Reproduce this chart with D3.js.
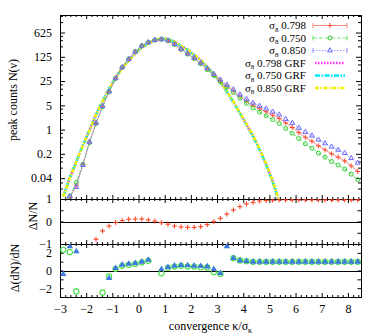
<!DOCTYPE html>
<html>
<head>
<meta charset="utf-8">
<script src="https://cdn.jsdelivr.net/npm/d3@7/dist/d3.min.js"></script>
<style>
body { margin: 0; background: #fff; }
text { font-family: "Liberation Serif", "DejaVu Serif", serif; font-size: 12px; fill: #000; }
</style>
</head>
<body>
<div id="chart"></div>
<script>
// bin centres of kappa/sigma
var nu = [-2.875, -2.625, -2.375, -2.125, -1.875, -1.625, -1.375, -1.125, -0.875, -0.625,
    -0.375, -0.125, 0.125, 0.375, 0.625, 0.875, 1.125, 1.375, 1.625, 1.875,
    2.125, 2.375, 2.625, 2.875, 3.125, 3.375, 3.625, 3.875, 4.125, 4.375,
    4.625, 4.875, 5.125, 5.375, 5.625, 5.875, 6.125, 6.375, 6.625, 6.875,
    7.125, 7.375, 7.625, 7.875, 8.125, 8.375];

// peak counts, simulations
var sim798 = [0.006, 0.011, 0.025, 0.10, 0.43, 1.5, 4.6, 12.3, 30, 62, 108, 175, 260, 327, 381, 400, 364, 286, 206, 152,
    113, 81, 55, 37.4, 25.5, 18, 12.9, 9.0, 6.6, 5.0, 4.0, 3.27, 2.6, 2.1, 1.55, 1.15, 0.82, 0.6, 0.46, 0.34,
    0.26, 0.2, 0.16, 0.125, 0.09, 0.062];
var sim750 = [0.004, 0.012, 0.03, 0.10, 0.42, 1.5, 4.5, 12.2, 30, 62, 108, 176, 262, 330, 383, 400, 362, 284, 204, 150,
    111, 79, 53, 36, 24, 16.8, 11.8, 8.0, 5.7, 4.2, 3.2, 2.5, 1.95, 1.5, 1.08, 0.78, 0.55, 0.39, 0.29, 0.21,
    0.16, 0.12, 0.095, 0.073, 0.052, 0.036];
var sim850 = [0.008, 0.012, 0.022, 0.095, 0.44, 1.55, 4.7, 12.5, 30, 62, 107, 174, 258, 325, 379, 398, 366, 290, 210, 156,
    116, 84, 58, 40, 27.5, 19.5, 14.3, 10.2, 7.6, 5.9, 4.8, 4.0, 3.25, 2.7, 2.0, 1.55, 1.12, 0.85, 0.67, 0.51,
    0.4, 0.32, 0.26, 0.21, 0.15, 0.11];

// peak counts, gaussian random fields (first 35 bins)
var grf798 = [0.012, 0.04, 0.12, 0.35, 0.95, 2.7, 6.5, 14.8, 31, 60, 97, 156, 232, 304, 373, 419, 407, 343, 255, 198,
    142, 100, 63, 40, 23, 12.5, 6.3, 3.0, 1.4, 0.65, 0.27, 0.1, 0.032, 0.0085, 0.002];
var grf750 = [0.012, 0.041, 0.122, 0.355, 0.96, 2.72, 6.55, 14.9, 31.2, 60.5, 97.5, 157, 233, 305, 374, 420, 407, 342, 254, 197,
    141, 99, 62.5, 39.5, 22.7, 12.3, 6.2, 2.95, 1.37, 0.63, 0.26, 0.097, 0.031, 0.0082, 0.002];
var grf850 = [0.0118, 0.0395, 0.118, 0.345, 0.94, 2.68, 6.45, 14.7, 30.8, 59.5, 96.5, 155, 231, 303, 372, 418, 408, 344, 256, 199,
    143, 101, 63.5, 40.5, 23.3, 12.7, 6.4, 3.05, 1.43, 0.67, 0.28, 0.103, 0.033, 0.0088, 0.0021];

// Delta N / N for sigma8 0.798 (null = outside the panel)
var dNN = [null, null, null, null, null, -0.79, -0.42, -0.2, -0.04, 0.04, 0.1, 0.11, 0.11, 0.07, 0.02, -0.05, -0.12, -0.2, -0.24, -0.26,
    -0.26, -0.23, -0.14, -0.01, 0.14, 0.33, 0.51, 0.66, 0.78, 0.85, 0.91, 0.93, 0.95, 0.96, 0.96, 0.96, 0.96, 0.96, 0.96, 0.96,
    0.96, 0.96, 0.96, 0.96, 0.96, 0.96];

// Delta(dN)/dN
var dd750 = [2.34, 2.08, -2.38, null, null, null, -2.49, -0.68, 0.19, 0.53, 0.64, 0.75, 0.91, 1.09, null, -0.3, 0.3, 0.45, 0.53, 0.45,
    0.45, 0.38, 0.34, -0.19, -0.38, null, 1.4, 1.13, 1.06, 0.98, 0.98, 0.98, 0.98, 0.98, 0.98, 0.98, 0.98, 0.98, 0.98, 0.98,
    0.98, 0.98, 0.98, 0.98, 0.98, 0.98];
var dd850 = [-0.42, 2.72, 2.15, null, null, null, null, -0.87, 0.26, 0.64, 0.75, 0.83, 0.98, 1.2, null, 0.15, 0.38, 0.53, 0.6, 0.57,
    0.53, 0.49, 0.45, 0.15, -0.3, 2.72, 1.4, 1.13, 1.06, 0.98, 0.98, 0.98, 0.98, 0.98, 0.98, 0.98, 0.98, 0.98, 0.98, 0.98,
    0.98, 0.98, 0.98, 0.98, 0.98, 0.98];

var logTicks = [0.04, 0.2, 1, 5, 25, 125, 625];
var logMinor = [0.02, 0.03, 0.08, 0.12, 0.16, 0.4, 0.6, 0.8, 2, 3, 4, 10, 15, 20, 50, 75, 100, 250, 375, 500, 1250, 1875];
var xTicks = [-3, -2, -1, 0, 1, 2, 3, 4, 5, 6, 7, 8];
var midTicks = [-1, -0.5, 0, 0.5, 1];
var midLabels = [-1, 0, 1];
var lowTicks = [-3, -2, -1, 0, 1, 2, 3];
var lowLabels = [-2, 0, 2];

var width = 382, height = 334,
    left = 60, right = 361,
    mainTop = 15, mainBot = 199, midBot = 244, lowBot = 297;

var svg = d3.select("#chart").append("svg")
    .attr("width", width)
    .attr("height", height);

var x = d3.scaleLinear().domain([-3, 8.5]).range([left, right]);
var yMain = d3.scaleLog().domain([0.01, 2000]).range([mainBot, mainTop]);
var yMid = d3.scaleLinear().domain([-1, 1]).range([midBot, mainBot]);
var yLow = d3.scaleLinear().domain([-3, 3]).range([lowBot, midBot]);

var xMinor = d3.range(-3, 8.51, 0.2).filter(function (d) { return Math.abs(d - Math.round(d)) > 0.01; });

var defs = svg.append("defs");
[["cMain", mainTop, mainBot], ["cMid", mainBot, midBot], ["cLow", midBot, lowBot]].forEach(function (c) {
    defs.append("clipPath").attr("id", c[0]).append("rect")
        .attr("x", left).attr("y", c[1]).attr("width", right - left).attr("height", c[2] - c[1]);
});

function noDomain(g) { g.select(".domain").remove(); g.selectAll("text").style("font-size", "12px"); }

// x ticks on every panel edge
[mainTop, mainBot, midBot, lowBot].forEach(function (yy, i) {
    if (i < 3) {
        svg.append("g").attr("transform", "translate(0," + yy + ")")
            .call(d3.axisBottom(x).tickValues(xTicks).tickSize(4).tickFormat("")).call(noDomain);
        svg.append("g").attr("transform", "translate(0," + yy + ")")
            .call(d3.axisBottom(x).tickValues(xMinor).tickSize(2).tickFormat("")).call(noDomain);
    }
    if (i > 0) {
        svg.append("g").attr("transform", "translate(0," + yy + ")")
            .call(d3.axisTop(x).tickValues(xTicks).tickSize(4).tickFormat("")).call(noDomain);
        svg.append("g").attr("transform", "translate(0," + yy + ")")
            .call(d3.axisTop(x).tickValues(xMinor).tickSize(2).tickFormat("")).call(noDomain);
    }
});
svg.append("g").attr("transform", "translate(0," + lowBot + ")")
    .call(d3.axisBottom(x).tickValues(xTicks).tickSize(0).tickPadding(7).tickFormat(d3.format("d")))
    .call(noDomain);

// y axes
function yAxes(scale, major, minor, labels, fmt, len) {
    svg.append("g").attr("transform", "translate(" + left + ",0)")
        .call(d3.axisLeft(scale).tickValues(major).tickSize(-len).tickFormat("")).call(noDomain);
    svg.append("g").attr("transform", "translate(" + right + ",0)")
        .call(d3.axisRight(scale).tickValues(major).tickSize(-len).tickFormat("")).call(noDomain);
    if (minor.length) {
        svg.append("g").attr("transform", "translate(" + left + ",0)")
            .call(d3.axisLeft(scale).tickValues(minor).tickSize(-3).tickFormat("")).call(noDomain);
        svg.append("g").attr("transform", "translate(" + right + ",0)")
            .call(d3.axisRight(scale).tickValues(minor).tickSize(-3).tickFormat("")).call(noDomain);
    }
    svg.append("g").attr("transform", "translate(" + left + ",0)")
        .call(d3.axisLeft(scale).tickValues(labels).tickSize(0).tickPadding(8).tickFormat(fmt)).call(noDomain);
}
yAxes(yMain, logTicks, logMinor, logTicks, d3.format(""), 5);
yAxes(yMid, midTicks, [], midLabels, d3.format("d"), 3.5);
yAxes(yLow, lowTicks, [], lowLabels, d3.format("d"), 3.5);

// frames and zero lines
[[mainTop, mainBot], [mainBot, midBot], [midBot, lowBot]].forEach(function (p) {
    svg.append("rect").attr("x", left + 0.5).attr("y", p[0] + 0.5)
        .attr("width", right - left).attr("height", p[1] - p[0])
        .attr("fill", "none").attr("stroke", "#000");
});
svg.append("line").attr("x1", left).attr("x2", right)
    .attr("y1", Math.round(yMid(0)) + 0.5).attr("y2", Math.round(yMid(0)) + 0.5).attr("stroke", "#000");
svg.append("line").attr("x1", left).attr("x2", right)
    .attr("y1", Math.round(yLow(0)) + 0.5).attr("y2", Math.round(yLow(0)) + 0.5).attr("stroke", "#000");

// markers
var plus = "M-2.5,0H2.5M0,-2.5V2.5";
var tri = d3.symbol(d3.symbolTriangle, 10)();
var triBig = d3.symbol(d3.symbolTriangle, 18)();

var mainG = svg.append("g").attr("clip-path", "url(#cMain)");

var simSeries = [
    { v: sim798, color: "#ff4a30", line: "#f48070", dash: null, mark: "plus" },
    { v: sim750, color: "#30d030", line: "#60e060", dash: "4,2", mark: "circle" },
    { v: sim850, color: "#6d6dff", line: "#8a8aff", dash: "1.5,1.5", mark: "tri" }
];
var grfSeries = [
    { v: grf798, color: "#ff30ff", dash: "1.5,1.5" },
    { v: grf750, color: "#00e8f0", dash: "5,1.5,1.5,1.5" },
    { v: grf850, color: "#f0f000", dash: "4,1.5,1.5,1.5" }
];

function pts(v) {
    return v.map(function (d, i) { return [nu[i], d]; }).filter(function (d) { return d[1] != null; });
}
var mainLine = d3.line().x(function (d) { return x(d[0]); }).y(function (d) { return yMain(d[1]); });

grfSeries.forEach(function (s) {
    mainG.append("path").datum(pts(s.v))
        .attr("d", mainLine).attr("fill", "none")
        .attr("stroke", s.color).attr("stroke-width", 2.6)
        .attr("stroke-dasharray", s.dash);
});

simSeries.forEach(function (s) {
    var p = pts(s.v);
    mainG.append("path").datum(p)
        .attr("d", mainLine).attr("fill", "none")
        .attr("stroke", s.line).attr("stroke-width", 0.9)
        .attr("stroke-dasharray", s.dash);
    var m = mainG.append("g").selectAll("g").data(p).enter().append("g")
        .attr("transform", function (d) { return "translate(" + x(d[0]) + "," + yMain(d[1]) + ")"; });
    if (s.mark == "plus") m.append("path").attr("d", plus).attr("stroke", s.color).attr("fill", "none");
    if (s.mark == "circle") m.append("circle").attr("r", 2).attr("stroke", s.color).attr("fill", "none");
    if (s.mark == "tri") m.append("path").attr("d", tri).attr("stroke", s.color).attr("fill", "none");
});

// Delta N / N
svg.append("g").attr("clip-path", "url(#cMid)")
    .selectAll("path").data(pts(dNN)).enter().append("path")
    .attr("transform", function (d) { return "translate(" + x(d[0]) + "," + yMid(d[1]) + ")"; })
    .attr("d", plus).attr("stroke", "#ff3a1a").attr("fill", "none");

// Delta(dN)/dN
var lowG = svg.append("g").attr("clip-path", "url(#cLow)");
lowG.selectAll("circle").data(pts(dd750)).enter().append("circle")
    .attr("cx", function (d) { return x(d[0]); })
    .attr("cy", function (d) { return yLow(d[1]); })
    .attr("r", 2.6).attr("fill", "none").attr("stroke", "#40e040").attr("stroke-width", 1.1);
lowG.selectAll("path").data(pts(dd850)).enter().append("path")
    .attr("transform", function (d) { return "translate(" + x(d[0]) + "," + yLow(d[1]) + ")"; })
    .attr("d", triBig).attr("fill", "#3f78e0");

// Legend
var legendItems = [
    { v: "0.798", s: simSeries[0], grf: false },
    { v: "0.750", s: simSeries[1], grf: false },
    { v: "0.850", s: simSeries[2], grf: false },
    { v: "0.798 GRF", s: grfSeries[0], grf: true },
    { v: "0.750 GRF", s: grfSeries[1], grf: true },
    { v: "0.850 GRF", s: grfSeries[2], grf: true }
];
var legend = svg.append("g").selectAll("g").data(legendItems).enter().append("g")
    .attr("transform", function (d, i) { return "translate(0," + (25.5 + i * 12.5) + ")"; });

var lt = legend.append("text").attr("x", 306).attr("dy", "0.33em").attr("text-anchor", "end")
    .style("font-size", "11px");
lt.append("tspan").text("σ");
lt.append("tspan").attr("dy", 2.5).style("font-size", "7px").text("8");
lt.append("tspan").attr("dy", -2.5).text(function (d) { return " " + d.v; });

legend.each(function (d) {
    var g = d3.select(this);
    if (d.grf) {
        g.append("line").attr("x1", 315).attr("x2", 345).attr("stroke", d.s.color)
            .attr("stroke-width", 2.6).attr("stroke-dasharray", d.s.dash);
    } else {
        g.append("line").attr("x1", 313).attr("x2", 347).attr("stroke", d.s.line)
            .attr("stroke-width", 0.9).attr("stroke-dasharray", d.s.dash);
        g.append("line").attr("x1", 313).attr("x2", 313).attr("y1", -2.5).attr("y2", 2.5).attr("stroke", d.s.line);
        g.append("line").attr("x1", 347).attr("x2", 347).attr("y1", -2.5).attr("y2", 2.5).attr("stroke", d.s.line);
        var m = g.append("g").attr("transform", "translate(330,0)");
        if (d.s.mark == "plus") m.append("path").attr("d", plus).attr("stroke", d.s.color).attr("fill", "none");
        if (d.s.mark == "circle") m.append("circle").attr("r", 2).attr("stroke", d.s.color).attr("fill", "none");
        if (d.s.mark == "tri") m.append("path").attr("d", tri).attr("stroke", d.s.color).attr("fill", "none");
    }
});

// axis titles
svg.append("text").attr("transform", "translate(17,100)rotate(-90)")
    .attr("text-anchor", "middle").text("peak counts N(ν)");
svg.append("text").attr("transform", "translate(37,216)rotate(-90)")
    .attr("text-anchor", "middle").text("ΔN/N");
svg.append("text").attr("transform", "translate(19,268)rotate(-90)")
    .attr("text-anchor", "middle").text("Δ(dN)/dN");

var xt = svg.append("text").attr("x", (left + right) / 2).attr("y", 330).attr("text-anchor", "middle");
xt.append("tspan").text("convergence κ/σ");
xt.append("tspan").attr("dy", 3).style("font-size", "8px").text("κ");
</script>
</body>
</html>
